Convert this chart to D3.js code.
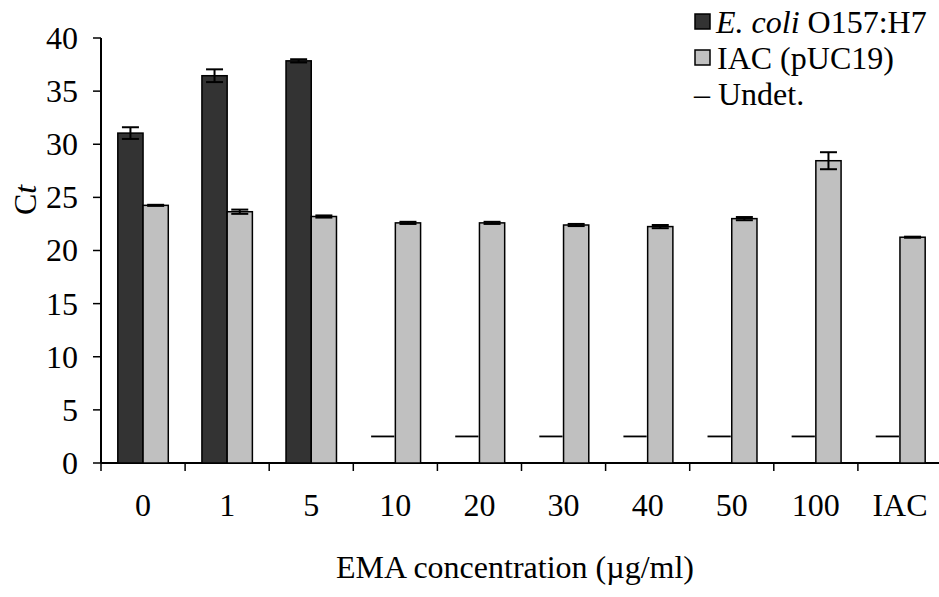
<!DOCTYPE html>
<html>
<head>
<meta charset="utf-8">
<script src="https://cdn.jsdelivr.net/npm/d3@7"></script>
<style>
  html, body { margin: 0; padding: 0; background: #fff; }
  svg { display: block; font-family: "Liberation Serif", "Times New Roman", serif; }
</style>
</head>
<body>
<svg id="chart" width="939" height="597"></svg>
<script>
// ---- data ----
const categories = ["0", "1", "5", "10", "20", "30", "40", "50", "100", "IAC"];
const ecoliValues = [31.05, 36.45, 37.85, null, null, null, null, null, null, null];
const ecoliErrors = [0.55, 0.6, 0.15, null, null, null, null, null, null, null];
const iacValues = [24.25, 23.65, 23.2, 22.6, 22.6, 22.4, 22.25, 23.0, 28.45, 21.25];
const iacErrors = [0.05, 0.2, 0.1, 0.1, 0.1, 0.1, 0.15, 0.15, 0.8, 0.05];
const undetValue = 2.5;
const yTicks = [0, 5, 10, 15, 20, 25, 30, 35, 40];
const seriesNames = ["E. coli O157:H7", "IAC (pUC19)", "Undet."];

// ---- layout ----
const svg = d3.select("#chart");
const mLeft = 101, mRight = 942, mTop = 38, mBottom = 463;
const fs = 32;

const x = d3.scaleBand().domain(categories).range([mLeft, mRight])
  .paddingInner(0.4).paddingOuter(0.2);
const xs = d3.scaleBand().domain(["ecoli", "iac"]).range([0, x.bandwidth()]).padding(0);
const y = d3.scaleLinear().domain([0, 40]).range([mBottom, mTop]);

const step = x.step();
const boundary = c => x(c) - step * x.paddingInner() / 2;

// axes
const g = svg.append("g");
g.append("line").attr("x1", mLeft).attr("x2", mLeft).attr("y1", y(40)).attr("y2", y(0))
  .attr("stroke", "#000").attr("stroke-width", 2);
g.selectAll(".yt").data(yTicks).enter().append("line")
  .attr("x1", mLeft - 8).attr("x2", mLeft).attr("y1", d => y(d)).attr("y2", d => y(d))
  .attr("stroke", "#000").attr("stroke-width", 1.5);
g.selectAll(".yl").data(yTicks).enter().append("text")
  .attr("x", 78).attr("y", d => y(d)).attr("dy", "0.34em")
  .attr("text-anchor", "end").attr("font-size", fs).text(d => d);
g.append("line").attr("x1", mLeft).attr("x2", 939).attr("y1", y(0)).attr("y2", y(0))
  .attr("stroke", "#000").attr("stroke-width", 2);
g.selectAll(".xt").data(categories).enter().append("line")
  .attr("x1", d => boundary(d)).attr("x2", d => boundary(d))
  .attr("y1", y(0)).attr("y2", y(0) + 8)
  .attr("stroke", "#000").attr("stroke-width", 1.5);
g.selectAll(".xl").data(categories).enter().append("text")
  .attr("x", d => boundary(d) + step / 2).attr("y", 516)
  .attr("text-anchor", "middle").attr("font-size", fs).text(d => d);

// titles
svg.append("text").attr("x", 515).attr("y", 578).attr("text-anchor", "middle")
  .attr("font-size", fs).text("EMA concentration (µg/ml)");
const yt = svg.append("text").attr("transform", "translate(36,200) rotate(-90)")
  .attr("text-anchor", "middle").attr("font-size", fs);
yt.append("tspan").text("C");
yt.append("tspan").attr("font-style", "italic").text("t");

// bars
const data = categories.map((c, i) => ({
  c, e: ecoliValues[i], ee: ecoliErrors[i], v: iacValues[i], ve: iacErrors[i]
}));

const bars = svg.append("g");
bars.selectAll(".eb").data(data.filter(d => d.e != null)).enter().append("rect")
  .attr("x", d => x(d.c) + xs("ecoli")).attr("width", xs.bandwidth())
  .attr("y", d => y(d.e)).attr("height", d => y(0) - y(d.e))
  .attr("fill", "#333333").attr("stroke", "#000").attr("stroke-width", 1.5);
bars.selectAll(".ib").data(data).enter().append("rect")
  .attr("x", d => x(d.c) + xs("iac")).attr("width", xs.bandwidth())
  .attr("y", d => y(d.v)).attr("height", d => y(0) - y(d.v))
  .attr("fill", "#c0c0c0").attr("stroke", "#000").attr("stroke-width", 1.5);

bars.selectAll(".ud").data(data.filter(d => d.e == null)).enter().append("line")
  .attr("x1", d => x(d.c) + xs("ecoli") + 1).attr("x2", d => x(d.c) + xs("ecoli") + xs.bandwidth() - 1)
  .attr("y1", y(undetValue)).attr("y2", y(undetValue))
  .attr("stroke", "#000").attr("stroke-width", 1.8);

// error bars
const capW = 17;
function errBar(sel, cx, val, err) {
  sel.append("line").attr("x1", cx).attr("x2", cx).attr("y1", y(val + err)).attr("y2", y(val - err))
    .attr("stroke", "#000").attr("stroke-width", 2);
  [val + err, val - err].forEach(v => {
    sel.append("line").attr("x1", cx - capW / 2).attr("x2", cx + capW / 2)
      .attr("y1", y(v)).attr("y2", y(v)).attr("stroke", "#000").attr("stroke-width", 2);
  });
}
const eg = svg.append("g");
data.forEach(d => {
  if (d.e != null) errBar(eg, x(d.c) + xs("ecoli") + xs.bandwidth() / 2, d.e, d.ee);
  errBar(eg, x(d.c) + xs("iac") + xs.bandwidth() / 2, d.v, d.ve);
});

// legend
const lg = svg.append("g");
const legendFill = ["#333333", "#c0c0c0"];
[0, 1].forEach(i => {
  lg.append("rect").attr("x", 695).attr("y", 14 + i * 36).attr("width", 15).attr("height", 15)
    .attr("fill", legendFill[i]).attr("stroke", "#000").attr("stroke-width", 1.5);
});
const t1 = lg.append("text").attr("x", 716).attr("y", 33).attr("font-size", fs);
t1.append("tspan").attr("font-style", "italic").text("E. coli");
t1.append("tspan").text(" O157:H7");
lg.append("text").attr("x", 717).attr("y", 69).attr("font-size", fs).text(seriesNames[1]);
lg.append("text").attr("x", 694).attr("y", 105).attr("font-size", fs).text("\u2013 " + seriesNames[2]);
</script>
</body>
</html>
